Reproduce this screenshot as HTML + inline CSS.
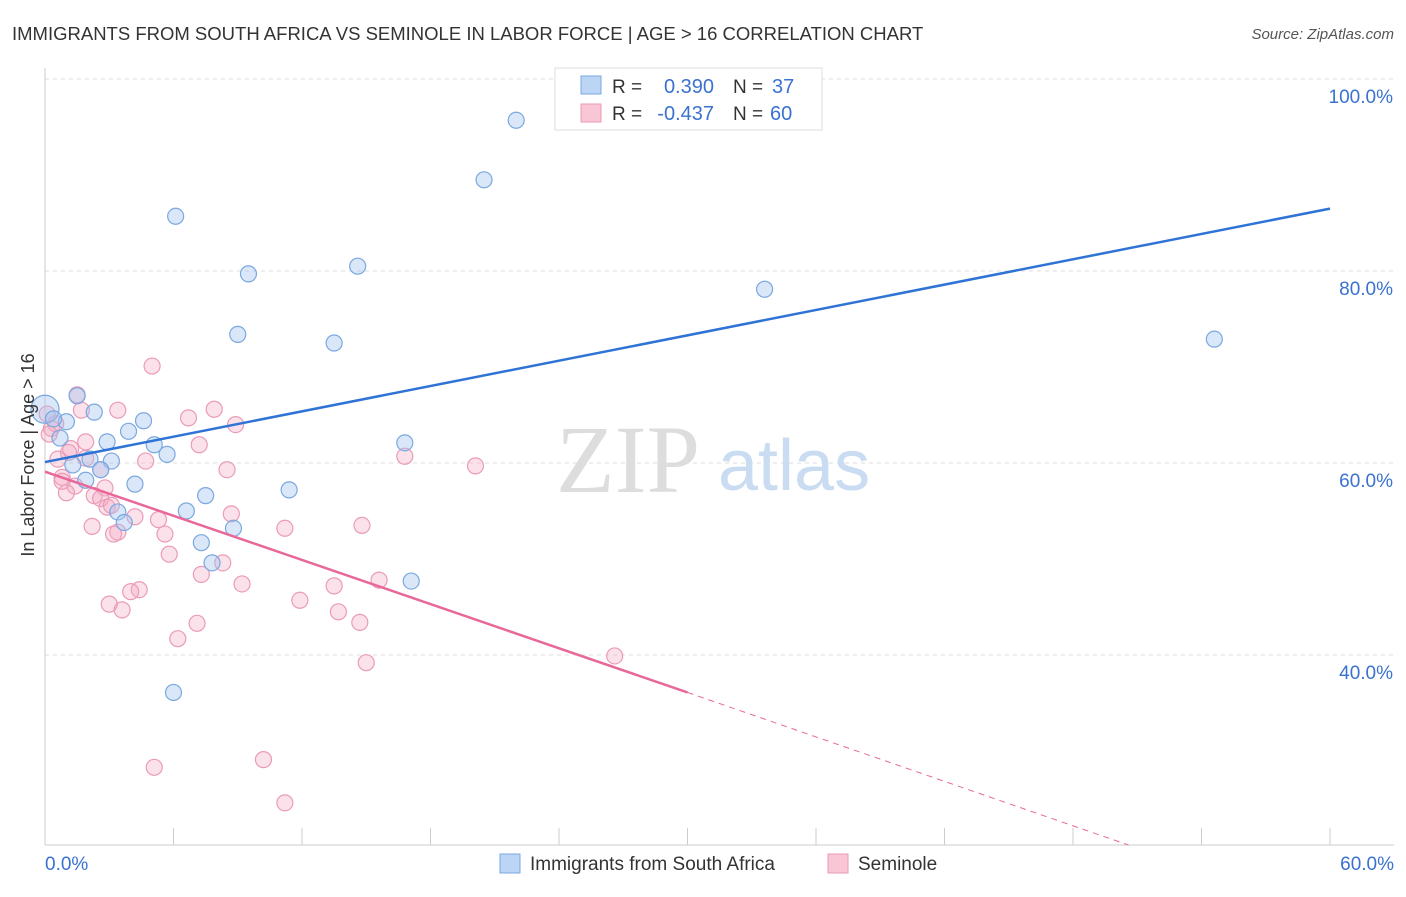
<!DOCTYPE html>
<html><head><meta charset="utf-8"><style>
body{margin:0;background:#fff;font-family:"Liberation Sans",sans-serif;}
</style></head><body>
<svg width="1406" height="892" xmlns="http://www.w3.org/2000/svg">
<text x="12" y="40" font-size="18.5" fill="#333">IMMIGRANTS FROM SOUTH AFRICA VS SEMINOLE IN LABOR FORCE | AGE &gt; 16 CORRELATION CHART</text>
<text x="1394" y="39" font-size="15" fill="#555" font-style="italic" text-anchor="end">Source: ZipAtlas.com</text>
<g id="grid"></g>
<text x="700" y="492" font-size="96" fill="#ddd" text-anchor="end" font-family="Liberation Serif">ZIP</text>
<text x="718" y="490" font-size="72" fill="#c9dcf2">atlas</text>
<g id="pts"></g>
<g id="lines"></g>
<text transform="translate(34,455) rotate(-90)" font-size="18" fill="#333" text-anchor="middle">In Labor Force | Age &gt; 16</text>
<g>
<rect x="555" y="68" width="267" height="62" fill="#fff" stroke="#ddd"/>
<rect x="581" y="76" width="20" height="18" fill="#bcd5f5" stroke="#7aa8e0"/>
<rect x="581" y="104" width="20" height="18" fill="#f9c6d6" stroke="#e99ab5"/>
<text x="612" y="93" font-size="19" fill="#333">R =</text>
<text x="714" y="93" font-size="20" fill="#3a72d0" text-anchor="end">0.390</text>
<text x="733" y="93" font-size="19" fill="#333">N =</text>
<text x="772" y="93" font-size="20" fill="#3a72d0">37</text>
<text x="612" y="120" font-size="19" fill="#333">R =</text>
<text x="714" y="120" font-size="20" fill="#3a72d0" text-anchor="end">-0.437</text>
<text x="733" y="120" font-size="19" fill="#333">N =</text>
<text x="770" y="120" font-size="20" fill="#3a72d0">60</text>
</g>
<g>
<rect x="500" y="854" width="20" height="19" fill="#bcd5f5" stroke="#7aa8e0"/>
<text x="530" y="870" font-size="19" fill="#333">Immigrants from South Africa</text>
<rect x="828" y="854" width="20" height="19" fill="#f9c6d6" stroke="#e99ab5"/>
<text x="858" y="870" font-size="19" fill="#333">Seminole</text>
</g>
</svg>
<script>
const xTicks=[0,6,12,18,24,30,36,42,48,54,60];
const yTicks=[40,60,80,100];
const blueX=[22.0,20.5,6.1,9.5,14.6,33.6,54.6,9.0,13.5,0,1.5,2.3,1.0,0.4,4.6,3.9,2.9,5.1,5.7,0.7,2.1,3.1,1.3,2.6,1.9,4.2,11.4,7.5,6.6,3.4,3.7,8.8,7.3,7.8,16.8,17.1,6.0];
const blueY=[95.7,89.5,85.7,79.7,80.5,78.1,72.9,73.4,72.5,65.6,67.0,65.3,64.3,64.6,64.4,63.3,62.2,61.9,60.9,62.6,60.4,60.2,59.8,59.3,58.2,57.8,57.2,56.6,55.0,54.9,53.8,53.2,51.7,49.6,62.1,47.7,36.1];
const pinkX=[5.0,1.5,1.7,3.4,6.7,7.9,8.9,0.3,1.9,7.2,1.2,1.1,0.6,4.7,2.6,8.5,16.8,20.1,0.8,1.4,2.8,1.0,2.3,2.6,2.9,8.7,5.3,4.2,2.2,11.2,14.8,3.4,3.2,5.6,5.8,8.3,7.3,9.2,13.5,15.6,4.4,4.0,3.0,3.6,11.9,13.7,14.7,7.1,6.2,26.6,15.0,5.1,10.2,11.2,0.5,0.1,1.9,3.1,0.8,0.2];
const pinkY=[70.1,67.1,65.5,65.5,64.7,65.6,64.0,63.6,62.2,61.9,61.5,61.1,60.4,60.2,59.3,59.3,60.7,59.7,58.5,57.6,57.4,56.9,56.6,56.3,55.4,54.7,54.1,54.4,53.4,53.2,53.5,52.8,52.6,52.6,50.5,49.6,48.4,47.4,47.2,47.8,46.8,46.6,45.3,44.7,45.7,44.5,43.4,43.3,41.7,39.9,39.2,28.3,29.1,24.6,64.1,65.1,60.5,55.6,58.1,63.0];
const X0=45,X1=1330,Y40=655,PX=(X1-X0)/60,PY=9.6;
const xs=v=>X0+v*PX, ys=v=>Y40-(v-40)*PY;
const NS="http://www.w3.org/2000/svg";
function mk(t,a,p){const e=document.createElementNS(NS,t);for(const k in a)e.setAttribute(k,a[k]);p.appendChild(e);return e;}
const g=document.getElementById('grid');
yTicks.forEach(v=>{const l=mk('line',{x1:45,x2:1394,y1:ys(v),y2:ys(v),stroke:'#ddd','stroke-dasharray':'4,4'},g);


const t=mk('text',{x:1393,y:ys(v)+24,'font-size':19,fill:'#3a72d0','text-anchor':'end'},g);t.textContent=v.toFixed(1)+'%';

});
mk('line',{x1:45,x2:45,y1:68,y2:845,stroke:'#ccc'},g);
mk('line',{x1:45,x2:1394,y1:845,y2:845,stroke:'#ccc'},g);
xTicks.forEach(v=>{if(v===0)return;const l=mk('line',{x1:xs(v),x2:xs(v),y1:828,y2:845,stroke:'#ccc'},g);

});
[[0,'start',45],[60,'end',1394]].forEach(([v,a,x])=>{const t=mk('text',{x:x,y:870,'font-size':19,fill:'#3a72d0','text-anchor':a},g);t.textContent=v.toFixed(1)+'%';

});
const p=document.getElementById('pts');
pinkX.forEach((v,i)=>{const c=mk('circle',{cx:xs(v),cy:ys(pinkY[i]),r:8,fill:'rgba(244,170,196,0.35)',stroke:'#eb9bb8','stroke-width':1.2},p);

});
blueX.forEach((v,i)=>{const c=mk('circle',{cx:xs(v),cy:ys(blueY[i]),r:i==9?14:8,fill:'rgba(160,196,240,0.4)',stroke:'#7aa8e0','stroke-width':1.2},p);

});
const L=document.getElementById('lines');
let e=mk('line',{x1:xs(0),y1:ys(60.1),x2:xs(60),y2:ys(86.5),stroke:'#2f73d6','stroke-width':2.5},L);


e=mk('line',{x1:xs(0),y1:ys(59.1),x2:xs(30),y2:ys(36.1),stroke:'#e8689a','stroke-width':2.5},L);


e=mk('line',{x1:xs(30),y1:ys(36.1),x2:xs(50.6),y2:ys(20.2),stroke:'#e8689a','stroke-width':1,'stroke-dasharray':'6,5'},L);


</script>
</body></html>
